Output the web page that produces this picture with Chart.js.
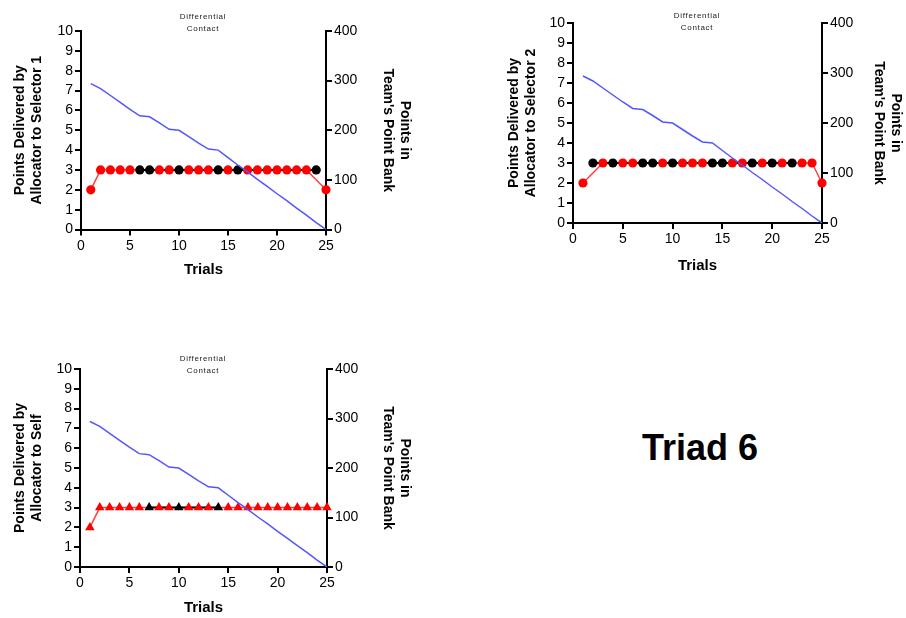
<!DOCTYPE html>
<html>
<head>
<meta charset="utf-8">
<script src="https://cdn.jsdelivr.net/npm/chart.js@4.4.1/dist/chart.umd.min.js"></script>
<style>
  html, body { margin: 0; padding: 0; background: #fff; width: 906px; height: 618px; overflow: hidden; }
  canvas { position: absolute; }
  .ttl { position: absolute; width: 140px; text-align: center; font: 8px Arial, "Liberation Sans", sans-serif;
         color: #222; letter-spacing: 0.7px; line-height: 12px; }
  #triad { position: absolute; left: 580px; top: 427px; width: 240px; text-align: center;
           font: bold 36px Arial, "Liberation Sans", sans-serif; color: #000; }
</style>
</head>
<body>
<canvas id="c1" width="420" height="285" style="left:0;top:0"></canvas>
<canvas id="c2" width="416" height="285" style="left:490px;top:0"></canvas>
<canvas id="c3" width="420" height="288" style="left:0;top:330px"></canvas>
<div class="ttl" style="left:133px;top:11px">Differential<br>Contact</div>
<div class="ttl" style="left:627px;top:10px">Differential<br>Contact</div>
<div class="ttl" style="left:133px;top:353px">Differential<br>Contact</div>
<div id="triad">Triad 6</div>
<script>
// trial numbers and the shared team point bank
const trials = [1, 2, 3, 4, 5, 6, 7, 8, 9, 10, 11, 12, 13, 14, 15, 16, 17, 18, 19, 20, 21, 22, 23, 24, 25];
const bankPoints = [294, 284, 270, 256, 242, 229, 227, 215, 202, 200, 187, 174, 162, 160, 145, 130, 116, 101, 87, 72, 58, 43, 29, 14, 0];

// points delivered; R = red marker, B = black marker
const selector1Points = [2, 3, 3, 3, 3, 3, 3, 3, 3, 3, 3, 3, 3, 3, 3, 3, 3, 3, 3, 3, 3, 3, 3, 3, 2];
const selector1Marks = ['R','R','R','R','R','B','B','R','R','B','R','R','R','B','R','B','R','R','R','R','R','R','R','B','R'];
const selector2Points = [2, 3, 3, 3, 3, 3, 3, 3, 3, 3, 3, 3, 3, 3, 3, 3, 3, 3, 3, 3, 3, 3, 3, 3, 2];
const selector2Marks = ['R','B','R','B','R','R','B','B','R','B','R','R','R','B','B','R','R','B','R','B','R','B','R','R','R'];
const selfPoints = [2, 3, 3, 3, 3, 3, 3, 3, 3, 3, 3, 3, 3, 3, 3, 3, 3, 3, 3, 3, 3, 3, 3, 3, 3];
const selfMarks = ['R','R','R','R','R','R','B','R','R','B','R','R','R','B','R','R','R','R','R','R','R','R','R','R','R'];

// tick labels
const xTicks = [0, 5, 10, 15, 20, 25];
const leftTicks = [0, 1, 2, 3, 4, 5, 6, 7, 8, 9, 10];
const rightTicks = [0, 100, 200, 300, 400];

const FONT = 'Arial, "Liberation Sans", sans-serif';
const RED = '#ff0000';
const BLUE = '#5555ff';

function pick(values, marks, code) {
  return values.map((v, i) => ({ x: trials[i], y: marks[i] === code ? v : null }));
}

function axisStyle() {
  return {
    grid: { drawOnChartArea: false, drawTicks: true, tickLength: 6, color: '#000', lineWidth: 2 },
    border: { display: true, color: '#000', width: 2 },
    ticks: { color: '#000', font: { family: FONT, size: 14 }, padding: 2 }
  };
}

function makeChart(id, values, marks, shape, leftTitle, g) {
  const radius = shape === 'triangle' ? 5.5 : 4.6;
  const bank = trials.map((t, i) => ({ x: t, y: bankPoints[i] }));

  new Chart(document.getElementById(id), {
    type: 'line',
    data: {
      datasets: [
        { data: bank, yAxisID: 'yR', borderColor: BLUE, borderWidth: 1.5, pointRadius: 0, order: 0 },
        { data: pick(values, marks, 'R'), yAxisID: 'yL', borderColor: 'rgba(255,0,0,0.75)', borderWidth: 1.5,
          pointRadius: 0, spanGaps: true, clip: false, order: 3 },
        { data: pick(values, marks, 'B'), yAxisID: 'yL', borderColor: '#000', borderWidth: 2,
          pointStyle: shape, pointRadius: radius, pointBackgroundColor: '#000', pointBorderWidth: 0,
          spanGaps: true, clip: false, order: 2 },
        { data: pick(values, marks, 'R'), yAxisID: 'yL', showLine: false, clip: false,
          pointStyle: shape, pointRadius: radius, pointBackgroundColor: RED, pointBorderWidth: 0, order: 1 }
      ]
    },
    options: {
      responsive: false,
      animation: false,
      devicePixelRatio: 1,
      layout: { padding: { top: g.top, left: 0, right: 0, bottom: 0 } },
      plugins: { legend: { display: false }, tooltip: { enabled: false } },
      scales: {
        x: {
          type: 'linear', min: 0, max: 25, ...axisStyle(),
          afterBuildTicks: s => { s.ticks = xTicks.map(v => ({ value: v })); },
          title: { display: true, text: 'Trials', color: '#000', font: { family: FONT, size: 15, weight: 'bold' },
                   padding: { top: 0, bottom: g.xPad } },
          afterFit: s => { s.height = g.bottom; }
        },
        yL: {
          position: 'left', min: 0, max: 10, ...axisStyle(),
          afterBuildTicks: s => { s.ticks = leftTicks.map(v => ({ value: v })); },
          title: { display: true, text: leftTitle, color: '#000', font: { family: FONT, size: 14, weight: 'bold', lineHeight: 1.25 },
                   padding: { top: g.lPad, bottom: 0 } },
          afterFit: s => { s.width = g.left; }
        },
        yR: {
          position: 'right', min: 0, max: 400, ...axisStyle(),
          afterBuildTicks: s => { s.ticks = rightTicks.map(v => ({ value: v })); },
          title: { display: true, text: ['Points in', "Team's Point Bank"], color: '#000',
                   font: { family: FONT, size: 14, weight: 'bold', lineHeight: 1.25 },
                   padding: { top: g.rPad, bottom: 0 } },
          afterFit: s => { s.width = g.right; }
        }
      }
    }
  });
}

makeChart('c1', selector1Points, selector1Marks, 'circle', ['Points Delivered by', 'Allocator to Selector 1'],
  { top: 31, bottom: 55.5, left: 81, right: 94, xPad: 6, lPad: 11, rPad: 6 });
makeChart('c2', selector2Points, selector2Marks, 'circle', ['Points Delivered by', 'Allocator to Selector 2'],
  { top: 23, bottom: 62, left: 83, right: 84, xPad: 10, lPad: 15, rPad: 1 });
makeChart('c3', selfPoints, selfMarks, 'triangle', ['Points Delivered by', 'Allocator to Self'],
  { top: 39, bottom: 51, left: 80, right: 93, xPad: 1, lPad: 11, rPad: 6 });
</script>
</body>
</html>
